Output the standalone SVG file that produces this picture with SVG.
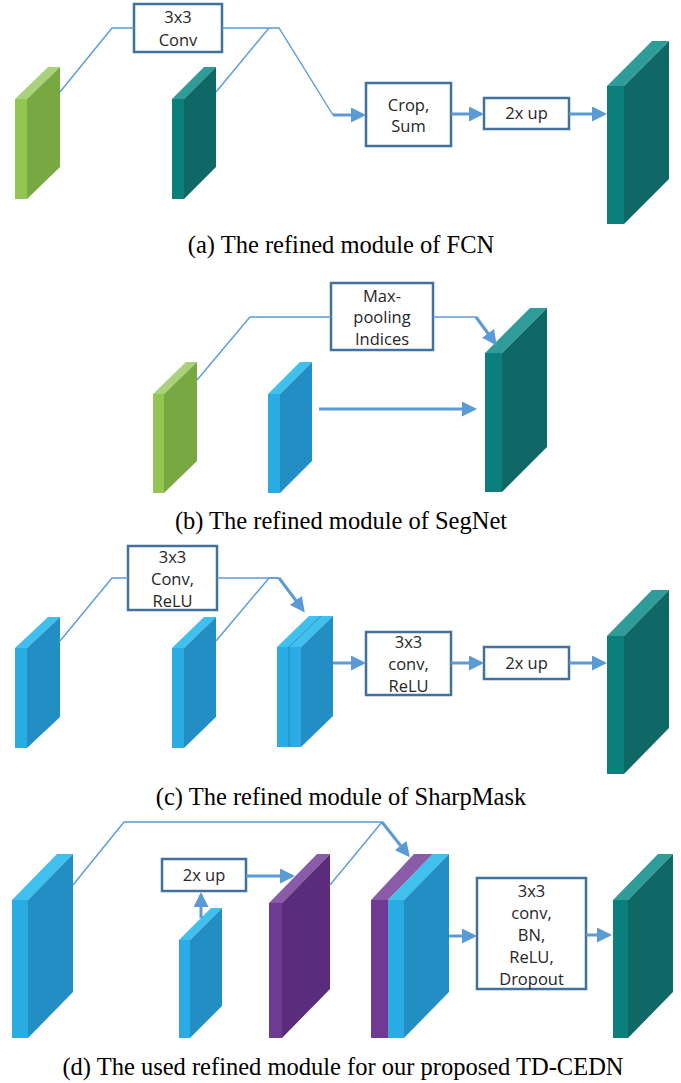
<svg xmlns="http://www.w3.org/2000/svg" width="681" height="1083" viewBox="0 0 681 1083">
  <style>
    .bg { fill: #ffffff; }
    .box { fill: #ffffff; stroke: #41719C; stroke-width: 2.5; }
    .lbl { font-family: "Open Sans", "Noto Sans", sans-serif; font-size: 16.5px; fill: #262626; text-anchor: middle; }
    .cap { font-family: "Liberation Serif", "Times New Roman", serif; font-size: 24.5px; fill: #000000; text-anchor: middle; }
    .thin { fill: none; stroke: #5B9BD5; stroke-width: 1.4; stroke-linejoin: miter; }
    .thick { fill: none; stroke: #5B9BD5; stroke-width: 3; }
    .green .f { fill: #92C651; } .green .s { fill: #78A841; } .green .t { fill: #A9D27B; }
    .teal .f { fill: #0A7F7B; } .teal .s { fill: #106866; } .teal .t { fill: #2F9C99; }
    .blue .f { fill: #29ACE3; } .blue .s { fill: #228EC4; } .blue .t { fill: #3FC0EE; }
    .purple .f { fill: #6E3A94; } .purple .s { fill: #5B2B7C; } .purple .t { fill: #8A5BA6; }
    .seam { stroke: #1E7DB0; stroke-width: 0.8; fill: none; }
  </style>
  <defs>
    <marker id="head" viewBox="0 0 15 15" refX="12" refY="7.5" markerWidth="15" markerHeight="15" markerUnits="userSpaceOnUse" orient="auto">
      <path d="M0,0 L15,7.5 L0,15 z" fill="#5B9BD5"/>
    </marker>
  </defs>
  <rect class="bg" x="0" y="0" width="681" height="1083"/>

  <!-- ===== (a) FCN ===== -->
  <g id="a-green" class="green">
    <rect class="f" x="15" y="99" width="12" height="100"/>
    <polygon class="t" points="15,99 27,99 60,67 48,67"/>
    <polygon class="s" points="27,99 60,67 60,167 27,199"/>
  </g>
  <g id="a-teal" class="teal">
    <rect class="f" x="172" y="99" width="12" height="100"/>
    <polygon class="t" points="172,99 184,99 216,67 204,67"/>
    <polygon class="s" points="184,99 216,67 216,167 184,199"/>
  </g>
  <g id="a-conv">
    <rect class="box" x="134" y="4" width="88" height="48"/>
    <text class="lbl" x="178" y="23">3x3</text>
    <text class="lbl" x="178" y="46">Conv</text>
  </g>
  <g id="a-crop">
    <rect class="box" x="366" y="83" width="85" height="63"/>
    <text class="lbl" x="408.5" y="111">Crop,</text>
    <text class="lbl" x="408.5" y="132">Sum</text>
  </g>
  <g id="a-up">
    <rect class="box" x="484" y="98" width="85" height="31"/>
    <text class="lbl" x="526.5" y="119">2x up</text>
  </g>
  <g id="a-out" class="teal">
    <rect class="f" x="607" y="86" width="17" height="138"/>
    <polygon class="t" points="607,86 624,86 669,41 652,41"/>
    <polygon class="s" points="624,86 669,41 669,179 624,224"/>
  </g>
  <text class="cap" x="341" y="253">(a) The refined module of FCN</text>

  <!-- ===== (b) SegNet ===== -->
  <g id="b-green" class="green">
    <rect class="f" x="153" y="394" width="11" height="99"/>
    <polygon class="t" points="153,394 164,394 197,362 186,362"/>
    <polygon class="s" points="164,394 197,362 197,461 164,493"/>
  </g>
  <g id="b-blue" class="blue">
    <rect class="f" x="268" y="394" width="12" height="99"/>
    <polygon class="t" points="268,394 280,394 312,362 300,362"/>
    <polygon class="s" points="280,394 312,362 312,461 280,493"/>
  </g>
  <g id="b-pool">
    <rect class="box" x="331" y="283" width="102" height="67"/>
    <text class="lbl" x="382" y="302">Max-</text>
    <text class="lbl" x="382" y="323">pooling</text>
    <text class="lbl" x="382" y="345">Indices</text>
  </g>
  <g id="b-out" class="teal">
    <rect class="f" x="485" y="353" width="17" height="139"/>
    <polygon class="t" points="485,353 502,353 547,308 530,308"/>
    <polygon class="s" points="502,353 547,308 547,447 502,492"/>
  </g>
  <text class="cap" x="341" y="529">(b) The refined module of SegNet</text>

  <!-- ===== (c) SharpMask ===== -->
  <g id="c-blue1" class="blue">
    <rect class="f" x="15" y="648" width="12" height="100"/>
    <polygon class="t" points="15,648 27,648 60,617 48,617"/>
    <polygon class="s" points="27,648 60,617 60,717 27,748"/>
  </g>
  <g id="c-blue2" class="blue">
    <rect class="f" x="172" y="648" width="12" height="100"/>
    <polygon class="t" points="172,648 184,648 216,617 204,617"/>
    <polygon class="s" points="184,648 216,617 216,717 184,748"/>
  </g>
  <g id="c-concat" class="blue">
    <rect class="f" x="277" y="647" width="12" height="100"/>
    <polygon class="t" points="277,647 289,647 321,616 309,616"/>
    <rect class="f" x="289" y="647" width="12" height="100"/>
    <polygon class="t" points="289,647 301,647 333,616 321,616"/>
    <polygon class="s" points="301,647 333,616 333,716 301,747"/>
    <path class="seam" d="M289,747 L289,647 L321,616"/>
  </g>
  <g id="c-conv">
    <rect class="box" x="128" y="546" width="89" height="64"/>
    <text class="lbl" x="172.5" y="563">3x3</text>
    <text class="lbl" x="172.5" y="585">Conv,</text>
    <text class="lbl" x="172.5" y="607">ReLU</text>
  </g>
  <g id="c-conv2">
    <rect class="box" x="366" y="632" width="85" height="63"/>
    <text class="lbl" x="408.5" y="648">3x3</text>
    <text class="lbl" x="408.5" y="670">conv,</text>
    <text class="lbl" x="408.5" y="692">ReLU</text>
  </g>
  <g id="c-up">
    <rect class="box" x="484" y="647" width="85" height="32"/>
    <text class="lbl" x="526.5" y="669">2x up</text>
  </g>
  <g id="c-out" class="teal">
    <rect class="f" x="607" y="636" width="17" height="138"/>
    <polygon class="t" points="607,636 624,636 669,590 652,590"/>
    <polygon class="s" points="624,636 669,590 669,728 624,774"/>
  </g>
  <text class="cap" x="341" y="805">(c) The refined module of SharpMask</text>

  <!-- ===== (d) TD-CEDN ===== -->
  <g id="d-blue-big" class="blue">
    <rect class="f" x="12" y="900" width="16" height="138"/>
    <polygon class="t" points="12,900 28,900 73,854 57,854"/>
    <polygon class="s" points="28,900 73,854 73,992 28,1038"/>
  </g>
  <g id="d-blue-small" class="blue">
    <rect class="f" x="179" y="940" width="11" height="98"/>
    <polygon class="t" points="179,940 190,940 222,908 211,908"/>
    <polygon class="s" points="190,940 222,908 222,1006 190,1038"/>
  </g>
  <g id="d-up">
    <rect class="box" x="162" y="859" width="84" height="32"/>
    <text class="lbl" x="204" y="881">2x up</text>
  </g>
  <g id="d-purple" class="purple">
    <rect class="f" x="269" y="903" width="13" height="135"/>
    <polygon class="t" points="269,903 282,903 330,854 317,854"/>
    <polygon class="s" points="282,903 330,854 330,989 282,1038"/>
  </g>
  <g id="d-concat">
    <rect class="f" x="371" y="900" width="17" height="138" fill="#6E3A94"/>
    <polygon points="371,900 388,900 433,854 414,854" fill="#8A5BA6"/>
    <rect x="388" y="900" width="16" height="138" fill="#29ACE3"/>
    <polygon points="388,900 404,900 449,854 433,854" fill="#3FC0EE"/>
    <polygon points="404,900 449,854 449,992 404,1038" fill="#228EC4"/>
  </g>
  <g id="d-conv">
    <rect class="box" x="477" y="878" width="109" height="111"/>
    <text class="lbl" x="531.5" y="897">3x3</text>
    <text class="lbl" x="531.5" y="919">conv,</text>
    <text class="lbl" x="531.5" y="941">BN,</text>
    <text class="lbl" x="531.5" y="963">ReLU,</text>
    <text class="lbl" x="531.5" y="985">Dropout</text>
  </g>
  <g id="d-out" class="teal">
    <rect class="f" x="613" y="900" width="15" height="138"/>
    <polygon class="t" points="613,900 628,900 673,854 658,854"/>
    <polygon class="s" points="628,900 673,854 673,992 628,1038"/>
  </g>
  <text class="cap" x="343" y="1075">(d) The used refined module for our proposed TD-CEDN</text>

  <!-- connectors -->
  <g id="connectors">
    <!-- (a) -->
    <polyline class="thin" points="60,92 112,28 134,28"/>
    <polyline class="thin" points="222,28 279,28 333,115"/>
    <polyline class="thin" points="216,92 269,28"/>
    <line class="thick" x1="333" y1="115" x2="363" y2="115" marker-end="url(#head)"/>
    <line class="thick" x1="451" y1="114" x2="481" y2="114" marker-end="url(#head)"/>
    <line class="thick" x1="569" y1="114" x2="604" y2="114" marker-end="url(#head)"/>
    <!-- (b) -->
    <polyline class="thin" points="197,380 250,317 331,317"/>
    <polyline class="thin" points="433,317 476,317"/>
    <line class="thick" x1="476" y1="317" x2="495" y2="343" marker-end="url(#head)"/>
    <line class="thick" x1="319" y1="409" x2="474" y2="409" marker-end="url(#head)"/>
    <!-- (c) -->
    <polyline class="thin" points="60,641 112,578 128,578"/>
    <polyline class="thin" points="217,578 279,578"/>
    <polyline class="thin" points="216,641 269,578 279,578"/>
    <line class="thick" x1="279" y1="578" x2="303" y2="610" marker-end="url(#head)"/>
    <line class="thick" x1="333" y1="663" x2="363" y2="663" marker-end="url(#head)"/>
    <line class="thick" x1="451" y1="663" x2="481" y2="663" marker-end="url(#head)"/>
    <line class="thick" x1="569" y1="663" x2="604" y2="663" marker-end="url(#head)"/>
    <!-- (d) -->
    <polyline class="thin" points="73,885 124,822 382,822"/>
    <polyline class="thin" points="330,885 382,822"/>
    <line class="thick" x1="382" y1="822" x2="408" y2="855" marker-end="url(#head)"/>
    <line class="thick" x1="201" y1="918" x2="201" y2="895" marker-end="url(#head)"/>
    <line class="thick" x1="246" y1="876" x2="292" y2="876" marker-end="url(#head)"/>
    <line class="thick" x1="449" y1="936" x2="474" y2="936" marker-end="url(#head)"/>
    <line class="thick" x1="586" y1="935" x2="609" y2="935" marker-end="url(#head)"/>
  </g>
</svg>
